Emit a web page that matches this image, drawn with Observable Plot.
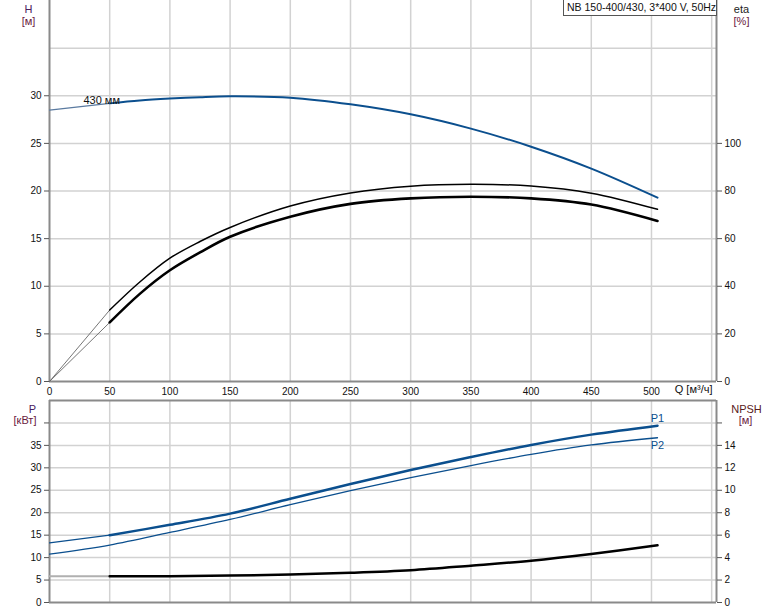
<!DOCTYPE html>
<html>
<head>
<meta charset="utf-8">
<script src="https://cdn.jsdelivr.net/npm/d3@7"></script>
<script src="https://cdn.jsdelivr.net/npm/@observablehq/plot@0.6"></script>
<style>
  html, body { margin: 0; padding: 0; background: #fff; }
  #wrap { position: relative; width: 774px; height: 611px; font-family: "Liberation Sans", Arial, sans-serif; }
  #topChart, #bottomChart { position: absolute; left: 0; }
  #topChart { top: 0; }
  #bottomChart { top: 400px; }
  #title { position: absolute; left: 563px; top: 0; width: 154px; height: 16px; box-sizing: border-box;
    border: 1px solid #555; border-top: none; background: #fff; font-size: 10.5px; line-height: 14px;
    padding-left: 3px; white-space: nowrap; color: #111; overflow: hidden; }
</style>
</head>
<body>
<div id="wrap">
  <div id="topChart"></div>
  <div id="bottomChart"></div>
  <div id="title"></div>
</div>
<script>
// ---- data ----
const titleText = "NB 150-400/430, 3*400 V, 50Hz";
const curveLabel = "430 мм";

// Q/H and efficiency curves (solid part, Q >= 50)
const qMain    = [50, 75, 100, 125, 150, 200, 250, 300, 350, 400, 450, 505];
const headMain = [29.2, 29.5, 29.7, 29.85, 29.94, 29.8, 29.1, 28.05, 26.55, 24.65, 22.35, 19.3];
const etaPump  = [30.0, 41.8, 51.8, 58.8, 64.7, 73.7, 79.2, 82.0, 82.8, 82.1, 79.1, 72.3];
const etaTotal = [24.8, 36.8, 46.7, 54.2, 60.8, 69.2, 74.6, 76.9, 77.6, 76.9, 74.3, 67.4];

// thin extensions for 0 <= Q <= 50
const qLow        = [0, 50];
const headLow     = [28.5, 29.2];
const etaPumpLow  = [0, 30.0];
const etaTotalLow = [0, 24.8];

// power and NPSH curves
const qPow     = [50, 100, 150, 200, 250, 300, 350, 400, 450, 505];
const p1Main   = [15.0, 17.3, 19.8, 23.1, 26.4, 29.5, 32.4, 35.1, 37.4, 39.4];
const npshMain = [2.33, 2.35, 2.4, 2.49, 2.64, 2.87, 3.28, 3.73, 4.33, 5.1];
const p1Low    = [13.3, 15.0];
const npshLow  = [2.33, 2.33];
const qP2      = [0, 50, 100, 150, 200, 250, 300, 350, 400, 450, 505];
const p2       = [10.8, 12.8, 15.6, 18.5, 21.8, 24.9, 27.8, 30.5, 33.0, 35.1, 36.7];

// axes
const qMax = 554;
const qGrid = [50, 100, 150, 200, 250, 300, 350, 400, 450, 500, 550];
const qTicks = [0, 50, 100, 150, 200, 250, 300, 350, 400, 450, 500];
const hGrid = [5, 10, 15, 20, 25, 30, 35];
const hTicks = [0, 5, 10, 15, 20, 25, 30];
const etaTicks = [0, 20, 40, 60, 80, 100];
const pGrid = [5, 10, 15, 20, 25, 30, 35, 40];
const pTicks = [0, 5, 10, 15, 20, 25, 30, 35, 40];
const npshPerP = 0.4;   // NPSH axis 0..18 alongside P 0..45
const etaPerH = 4;      // eta axis 0..160 alongside H 0..40

// ---- styles ----
const BLUE = "#0b4f8e";
const GRID = "#d2d2d2";
const AXIS = "#8a8a8a";
const FONT = "'Liberation Sans', Arial, sans-serif";
const CURVE = "catmull-rom";

const rows = (xs, ys) => xs.map((x, i) => ({x, y: ys[i]}));

document.getElementById("title").textContent = titleText;

const topPlot = Plot.plot({
  width: 774, height: 400,
  marginLeft: 49, marginRight: 58, marginTop: 0, marginBottom: 19,
  x: {domain: [0, qMax], axis: null},
  y: {domain: [0, 40], axis: null},
  style: {fontFamily: FONT, fontSize: "10px", background: "transparent", overflow: "visible"},
  marks: [
    Plot.gridX(qGrid, {stroke: GRID, strokeOpacity: 1, strokeWidth: 1.5}),
    Plot.gridY(hGrid, {stroke: GRID, strokeOpacity: 1, strokeWidth: 1.5}),
    Plot.ruleX([0, qMax], {stroke: AXIS, strokeWidth: 2}),
    Plot.ruleY([0], {stroke: AXIS, strokeWidth: 2}),
    Plot.axisY({anchor: "left", ticks: hTicks, tickSize: 5, tickPadding: 3, label: null, stroke: "#555", fill: "#111"}),
    Plot.axisY({anchor: "right", ticks: etaTicks.map(e => e / etaPerH), tickFormat: d => d * etaPerH, tickSize: 5, tickPadding: 3, label: null, stroke: "#555", fill: "#111"}),
    Plot.axisX({anchor: "bottom", ticks: qTicks, tickSize: 0, tickPadding: 6, label: null, fill: "#111"}),
    // thin extensions
    Plot.line(rows(qLow, headLow), {x: "x", y: "y", stroke: "#5a7aa0", strokeWidth: 1.2}),
    Plot.line(rows(qLow, etaPumpLow), {x: "x", y: d => d.y / etaPerH, stroke: "#666", strokeWidth: 0.9}),
    Plot.line(rows(qLow, etaTotalLow), {x: "x", y: d => d.y / etaPerH, stroke: "#666", strokeWidth: 0.9}),
    // main curves
    Plot.line(rows(qMain, etaPump), {x: "x", y: d => d.y / etaPerH, stroke: "#000", strokeWidth: 1.5, curve: CURVE}),
    Plot.line(rows(qMain, etaTotal), {x: "x", y: d => d.y / etaPerH, stroke: "#000", strokeWidth: 2.6, curve: CURVE}),
    Plot.line(rows(qMain, headMain), {x: "x", y: "y", stroke: BLUE, strokeWidth: 2, curve: CURVE}),
    Plot.text([rows(qMain, headMain)[0]], {x: "x", y: "y", text: () => curveLabel, dx: -8, dy: -3, fontSize: 11, fill: "#111"}),
    // axis labels
    Plot.text(["H"], {frameAnchor: "top-left", textAnchor: "middle", dx: -21, dy: 5, fontSize: 11, fill: "#4a2060"}),
    Plot.text(["[м]"], {frameAnchor: "top-left", textAnchor: "middle", dx: -21, dy: 17, fontSize: 11, fill: "#6a2040"}),
    Plot.text(["eta"], {frameAnchor: "top-right", textAnchor: "middle", dx: 25, dy: 5, fontSize: 11, fill: "#222"}),
    Plot.text(["[%]"], {frameAnchor: "top-right", textAnchor: "middle", dx: 25, dy: 17, fontSize: 11, fill: "#6a2040"}),
    Plot.text(["Q [м³/ч]"], {frameAnchor: "bottom-right", textAnchor: "end", dx: -4, dy: 11, fontSize: 11, fill: "#111"})
  ]
});
document.getElementById("topChart").appendChild(topPlot);

const bottomPlot = Plot.plot({
  width: 774, height: 211,
  marginLeft: 49, marginRight: 58, marginTop: 0, marginBottom: 9,
  x: {domain: [0, qMax], axis: null},
  y: {domain: [0, 45], axis: null},
  style: {fontFamily: FONT, fontSize: "10px", background: "transparent", overflow: "visible"},
  marks: [
    Plot.gridX(qGrid, {stroke: GRID, strokeOpacity: 1, strokeWidth: 1.5}),
    Plot.gridY(pGrid, {stroke: GRID, strokeOpacity: 1, strokeWidth: 1.5}),
    Plot.ruleX([0, qMax], {stroke: AXIS, strokeWidth: 2}),
    Plot.ruleY([0, 45], {stroke: AXIS, strokeWidth: 2}),
    Plot.axisY({anchor: "left", ticks: pTicks, tickFormat: d => d <= 35 ? d : "", tickSize: 5, tickPadding: 3, label: null, stroke: "#555", fill: "#111"}),
    Plot.axisY({anchor: "right", ticks: pTicks, tickFormat: d => d <= 35 ? +(d * npshPerP).toFixed(1) : "", tickSize: 5, tickPadding: 3, label: null, stroke: "#555", fill: "#111"}),
    // NPSH
    Plot.line(rows(qLow, npshLow), {x: "x", y: d => d.y / npshPerP, stroke: "#b0b0b0", strokeWidth: 2}),
    Plot.line(rows(qPow, npshMain), {x: "x", y: d => d.y / npshPerP, stroke: "#000", strokeWidth: 2.5, curve: CURVE}),
    // P2
    Plot.line(rows(qP2, p2), {x: "x", y: "y", stroke: BLUE, strokeWidth: 1.3, curve: CURVE}),
    // P1
    Plot.line(rows(qLow, p1Low), {x: "x", y: "y", stroke: BLUE, strokeWidth: 1.2}),
    Plot.line(rows(qPow, p1Main), {x: "x", y: "y", stroke: BLUE, strokeWidth: 2.5, curve: CURVE}),
    Plot.text([rows(qPow, p1Main).at(-1)], {x: "x", y: "y", text: () => "P1", dy: -7, fontSize: 11, fill: BLUE}),
    Plot.text([rows(qP2, p2).at(-1)], {x: "x", y: "y", text: () => "P2", dy: 8, fontSize: 11, fill: BLUE}),
    // axis labels
    Plot.text(["P"], {frameAnchor: "top-left", textAnchor: "middle", dx: -17, dy: 5, fontSize: 11, fill: "#4a2060"}),
    Plot.text(["[кВт]"], {frameAnchor: "top-left", textAnchor: "middle", dx: -24.5, dy: 16, fontSize: 11, fill: "#6a2040"}),
    Plot.text(["NPSH"], {frameAnchor: "top-right", textAnchor: "middle", dx: 30, dy: 5, fontSize: 11, fill: "#5a2020"}),
    Plot.text(["[м]"], {frameAnchor: "top-right", textAnchor: "middle", dx: 29, dy: 16, fontSize: 11, fill: "#6a2040"})
  ]
});
document.getElementById("bottomChart").appendChild(bottomPlot);
</script>
</body>
</html>
